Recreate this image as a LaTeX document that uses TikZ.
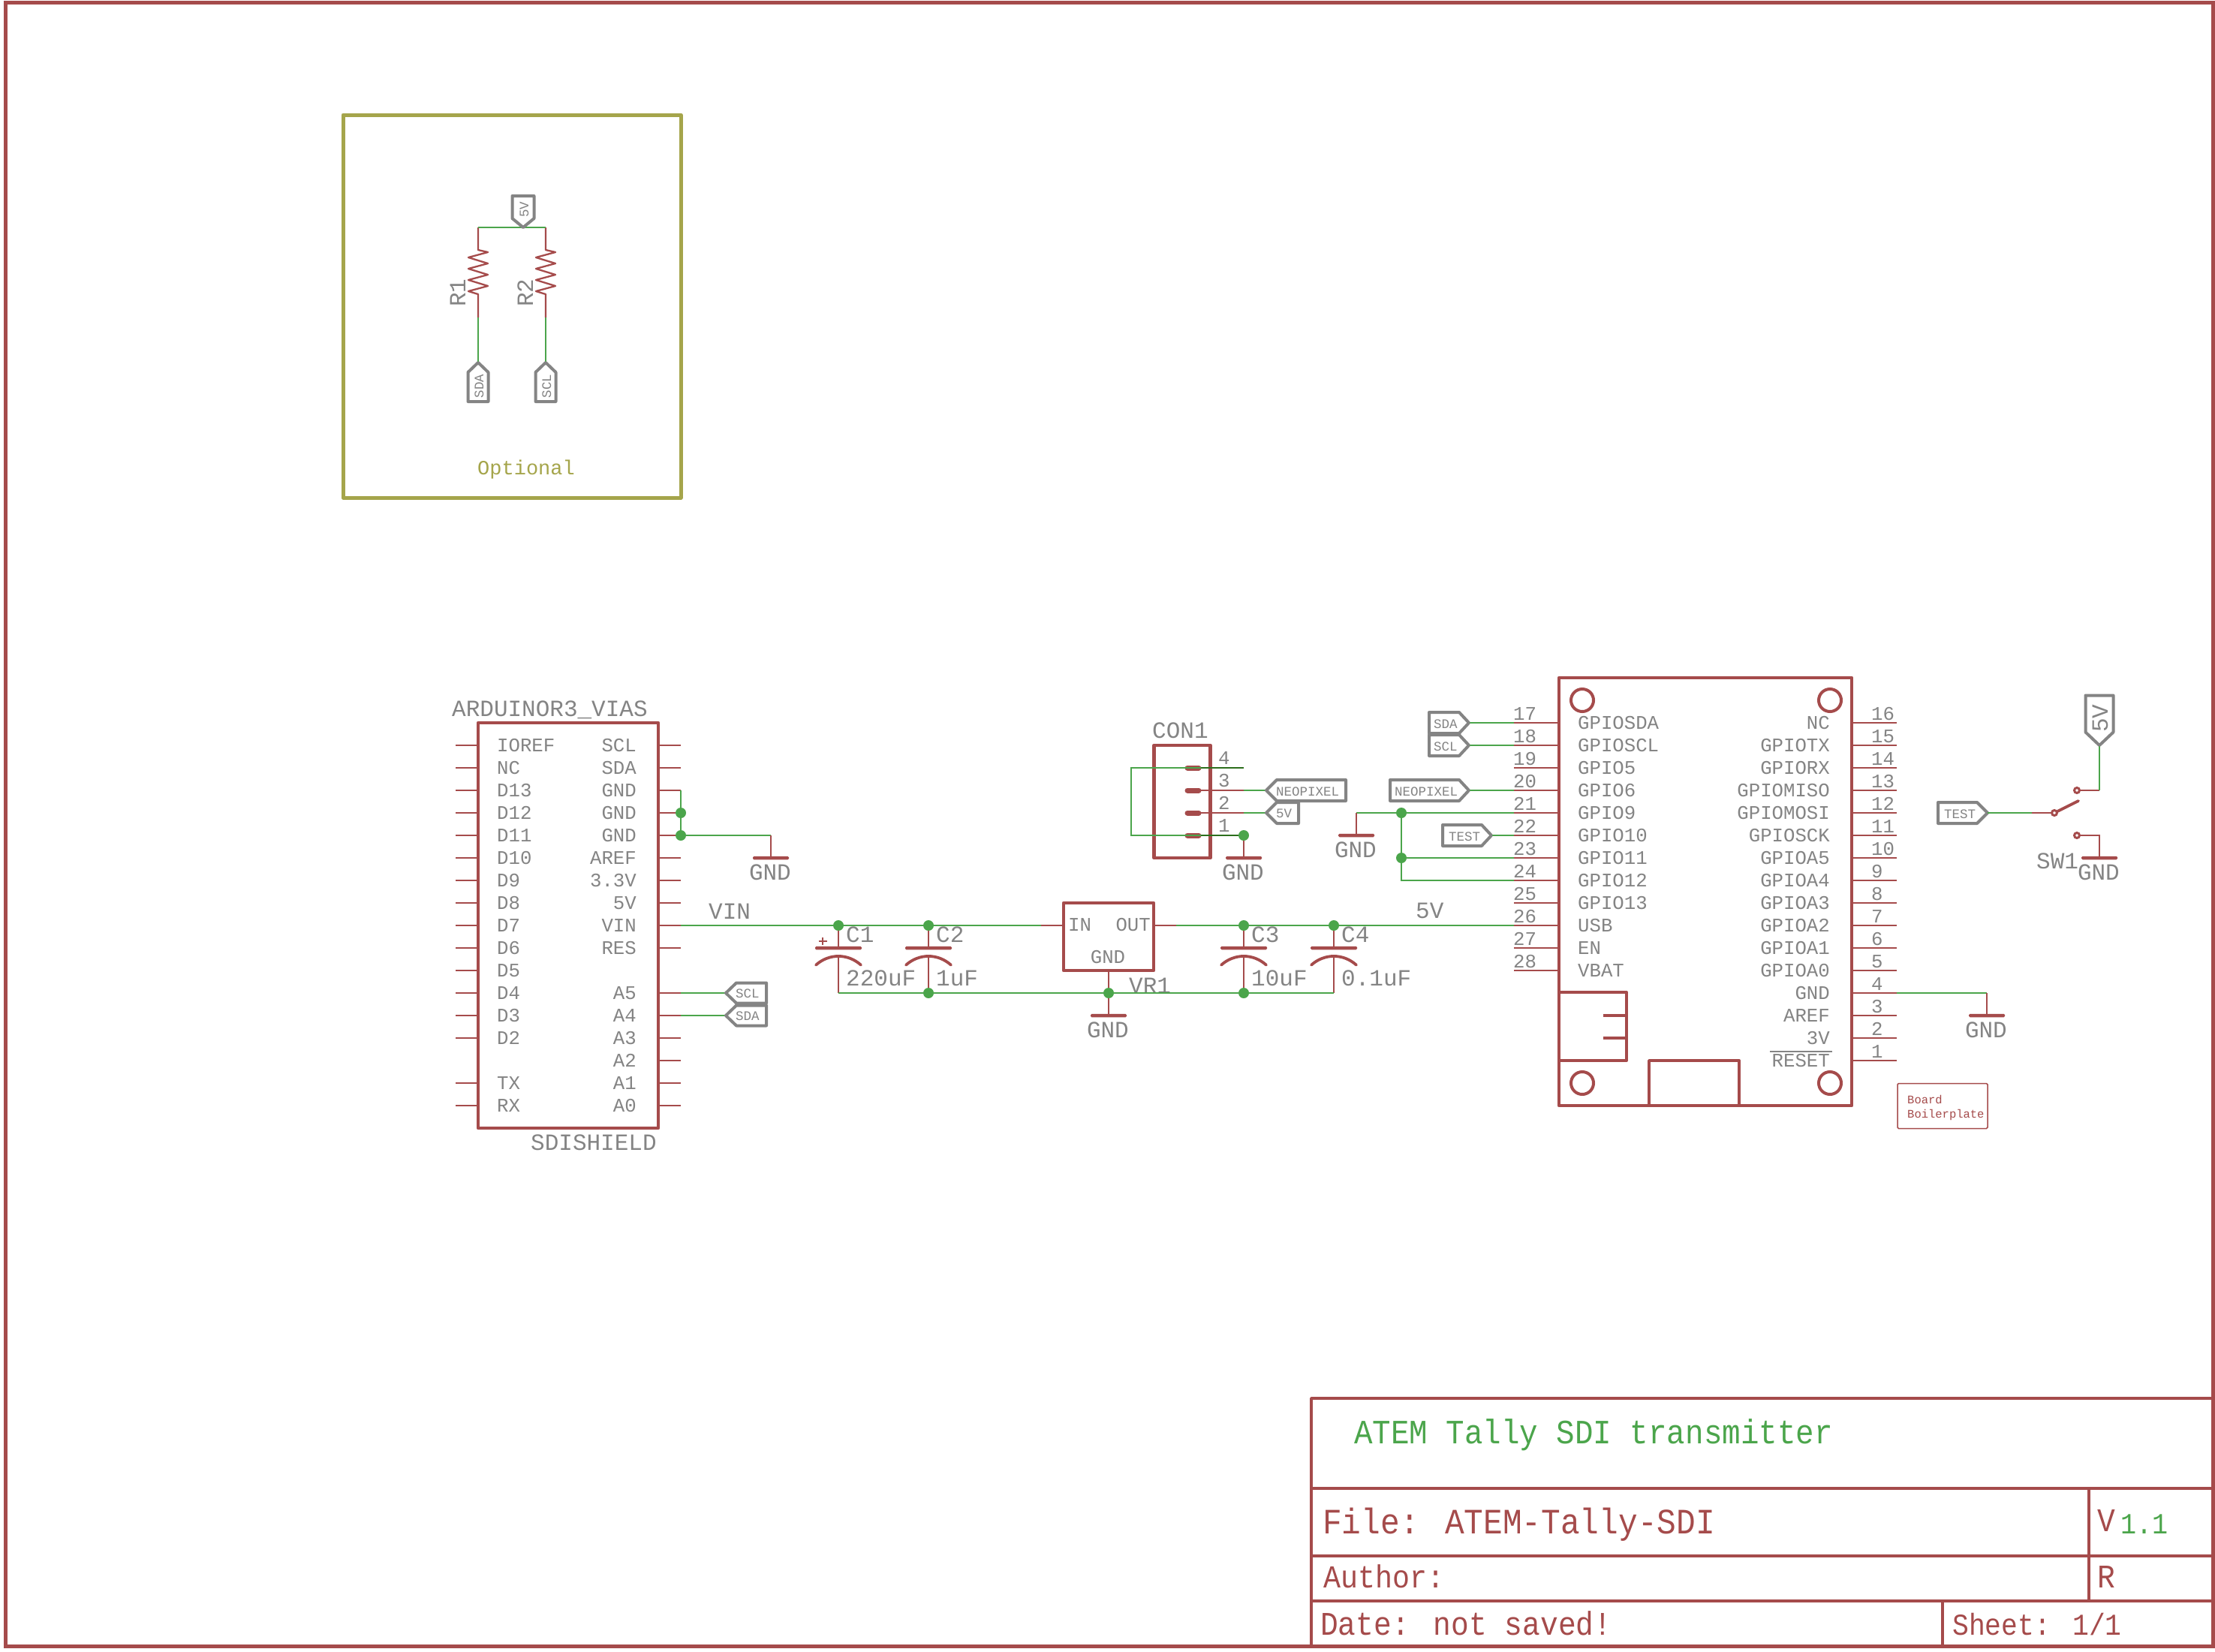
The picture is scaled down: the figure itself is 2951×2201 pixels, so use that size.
\documentclass[tikz,border=0pt]{standalone}
\usepackage{fontspec}
\setmainfont{Liberation Mono}
\newfontfamily\blockfont[FakeStretch=0.9]{Liberation Mono}
\usetikzlibrary{positioning,calc}

\definecolor{symred}{RGB}{165,75,75}
\definecolor{netgreen}{RGB}{75,165,75}
\definecolor{darknet}{RGB}{44,110,28}
\definecolor{txtgray}{RGB}{132,132,132}
\definecolor{olive}{RGB}{165,165,75}

\tikzset{
  pinline/.style={draw=symred, line width=2.3pt},
  wire/.style={draw=netgreen, line width=2.3pt, line join=miter},
  darkwire/.style={draw=darknet, line width=2.3pt},
  flag/.style={draw=txtgray, line width=4pt, line join=round},
  padline/.style={draw=symred, line width=7pt, line cap=round},
  symline/.style={draw=symred, line width=3.8pt, line join=round},
  capcurve/.style={draw=symred, line width=3.8pt, line cap=round},
  symbox/.style={draw=symred, line width=4.5pt, inner sep=0pt, outer sep=0pt, line join=round},
  holeshape/.style={draw=symred, line width=4pt, circle, inner sep=0pt, minimum size=30pt},
  junction/.style={fill=netgreen, circle, inner sep=0pt, minimum size=14pt},
  contact/.style={draw=symred, line width=3pt, circle, inner sep=0pt, minimum size=7pt},
  gndbar/.style={fill=symred, inner sep=0pt, outer sep=0pt, minimum width=48pt, minimum height=4.5pt, rounded corners=1.5pt},
  capplate/.style={fill=symred, inner sep=0pt, outer sep=0pt, minimum width=62pt, minimum height=4.5pt, rounded corners=1.5pt},
  pintxt/.style={text=txtgray, inner sep=0pt, font=\fontsize{25.7}{26}\selectfont},
  nametxt/.style={text=txtgray, inner sep=0pt, anchor=base west, font=\fontsize{31}{31}\selectfont},
  flagtxt/.style={text=txtgray, inner sep=0pt, anchor=base west, font=\fontsize{17.5}{17.5}\selectfont},
  pinw/.style={pintxt, anchor=base west, xshift=25pt, yshift=-8.5pt},
  pine/.style={pintxt, anchor=base east, xshift=-29pt, yshift=-8.5pt},
  numw/.style={pintxt, anchor=base west, xshift=-61pt, yshift=4pt},
  nume/.style={pintxt, anchor=base west, xshift=26pt, yshift=4pt},
  gndtxt/.style={nametxt, anchor=base east, xshift=27pt, yshift=-29pt},
  titletxt/.style={text=symred, inner sep=0pt, anchor=base west},
}

\begin{document}
\begin{tikzpicture}[x=1pt, y=-1pt]
  \fill[white] (0,0) rectangle (2951,2201);
  \useasboundingbox (0,0) rectangle (2951,2201);

  % sheet frame and title block
  \draw[draw=symred, line width=5pt] (7.5,3.5) rectangle (2948.5,2193.5);
  \draw[symline] (1747,2193) -- (1747,1863) -- (2948,1863);
  \draw[symline] (1747,1983) -- (2948,1983);
  \draw[symline] (1747,2073) -- (2948,2073);
  \draw[symline] (1747,2133) -- (2948,2133);
  \draw[symline] (2783,1983) -- (2783,2133);
  \draw[symline] (2588,2133) -- (2588,2193);
  \node (title) [titletxt, text=netgreen, font=\blockfont\fontsize{45.4}{45}\selectfont] at (1804,1923) {ATEM Tally SDI transmitter};
  \node (file) [titletxt, font=\blockfont\fontsize{47.6}{48}\selectfont] at (1762,2043) {File: ATEM-Tally-SDI};
  \node (vers) [titletxt, font=\blockfont\fontsize{44}{44}\selectfont] at (2794,2040) {V};
  \node (versn) [titletxt, text=netgreen, font=\blockfont\fontsize{39}{39}\selectfont] at (2825,2043) {1.1};
  \node (author) [titletxt, font=\blockfont\fontsize{42.6}{43}\selectfont] at (1763,2115) {Author:};
  \node (rev) [titletxt, font=\blockfont\fontsize{44}{44}\selectfont] at (2794,2115) {R};
  \node (date) [titletxt, font=\blockfont\fontsize{44}{44}\selectfont] at (1759,2178) {Date: not saved!};
  \node (sheet) [titletxt, font=\blockfont\fontsize{40.4}{40}\selectfont] at (2601,2178) {Sheet: 1/1};

  % optional pull ups
  \node (optbox) [draw=olive, line width=5pt, inner sep=0pt, minimum width=450pt, minimum height=510pt, line join=round] at (682,408) {};
  \node (opttxt) [text=olive, inner sep=0pt, anchor=base west, font=\fontsize{27}{27}\selectfont] at (636,632) {Optional};
  \coordinate (f5v) at (697,303);
  \coordinate (r1a) at (637,303);
  \coordinate (r2a) at (727,303);
  \coordinate (r1b) at (637,423);
  \coordinate (r2b) at (727,423);
  \coordinate (fsda) at (637,483);
  \coordinate (fscl) at (727,483);
  \draw[pinline, line join=round] (r1a) -- ++(0,30) -- ++(13,3) -- ++(-26,7) -- ++(26,8) -- ++(-26,7) -- ++(26,8) -- ++(-26,7) -- ++(26,8) -- ++(-26,7) -- ++(13,4) -- (r1b);
  \draw[pinline, line join=round] (r2a) -- ++(0,30) -- ++(13,3) -- ++(-26,7) -- ++(26,8) -- ++(-26,7) -- ++(26,8) -- ++(-26,7) -- ++(26,8) -- ++(-26,7) -- ++(13,4) -- (r2b);
  \draw[wire] (r1a) -- (r2a);
  \draw[wire] (r1b) -- (fsda);
  \draw[wire] (r2b) -- (fscl);
  \draw[flag] (f5v) -- ++(-14.5,-12) -- ++(0,-30) -- ++(29,0) -- ++(0,30) -- cycle;
  \draw[flag] (fsda) -- ++(-13.5,13) -- ++(0,39) -- ++(27,0) -- ++(0,-39) -- cycle;
  \draw[flag] (fscl) -- ++(-13.5,13) -- ++(0,39) -- ++(27,0) -- ++(0,-39) -- cycle;
  \node (t5v) [flagtxt, rotate=90] at (704,290) {5V};
  \node (tsda) [flagtxt, rotate=90] at (644,530.5) {SDA};
  \node (tscl) [flagtxt, rotate=90] at (734,530.5) {SCL};
  \node (tr1) [nametxt, rotate=90] at (620,409) {R1};
  \node (tr2) [nametxt, rotate=90] at (710,409) {R2};

  % arduino shield
  \node (ard) [symbox, minimum width=240pt, minimum height=540pt] at (757,1233) {};
  \node (tard) [nametxt] at (602,954) {ARDUINOR3\_VIAS};
  \node (tshield) [nametxt] at (707,1532) {SDISHIELD};
  \coordinate (al1) at (637,993); \node (tl1) [pinw] at (al1) {IOREF}; \draw[pinline] (al1) -- ++(-30,0);
  \coordinate (al2) at (637,1023); \node (tl2) [pinw] at (al2) {NC}; \draw[pinline] (al2) -- ++(-30,0);
  \coordinate (al3) at (637,1053); \node (tl3) [pinw] at (al3) {D13}; \draw[pinline] (al3) -- ++(-30,0);
  \coordinate (al4) at (637,1083); \node (tl4) [pinw] at (al4) {D12}; \draw[pinline] (al4) -- ++(-30,0);
  \coordinate (al5) at (637,1113); \node (tl5) [pinw] at (al5) {D11}; \draw[pinline] (al5) -- ++(-30,0);
  \coordinate (al6) at (637,1143); \node (tl6) [pinw] at (al6) {D10}; \draw[pinline] (al6) -- ++(-30,0);
  \coordinate (al7) at (637,1173); \node (tl7) [pinw] at (al7) {D9}; \draw[pinline] (al7) -- ++(-30,0);
  \coordinate (al8) at (637,1203); \node (tl8) [pinw] at (al8) {D8}; \draw[pinline] (al8) -- ++(-30,0);
  \coordinate (al9) at (637,1233); \node (tl9) [pinw] at (al9) {D7}; \draw[pinline] (al9) -- ++(-30,0);
  \coordinate (al10) at (637,1263); \node (tl10) [pinw] at (al10) {D6}; \draw[pinline] (al10) -- ++(-30,0);
  \coordinate (al11) at (637,1293); \node (tl11) [pinw] at (al11) {D5}; \draw[pinline] (al11) -- ++(-30,0);
  \coordinate (al12) at (637,1323); \node (tl12) [pinw] at (al12) {D4}; \draw[pinline] (al12) -- ++(-30,0);
  \coordinate (al13) at (637,1353); \node (tl13) [pinw] at (al13) {D3}; \draw[pinline] (al13) -- ++(-30,0);
  \coordinate (al14) at (637,1383); \node (tl14) [pinw] at (al14) {D2}; \draw[pinline] (al14) -- ++(-30,0);
  \coordinate (al16) at (637,1443); \node (tl16) [pinw] at (al16) {TX}; \draw[pinline] (al16) -- ++(-30,0);
  \coordinate (al17) at (637,1473); \node (tl17) [pinw] at (al17) {RX}; \draw[pinline] (al17) -- ++(-30,0);

  \coordinate (ar1) at (877,993); \node (tr1a) [pine] at (ar1) {SCL}; \draw[pinline] (ar1) -- ++(30,0);
  \coordinate (ar2) at (877,1023); \node (tr2a) [pine] at (ar2) {SDA}; \draw[pinline] (ar2) -- ++(30,0);
  \coordinate (ar3) at (877,1053); \node (tr3) [pine] at (ar3) {GND}; \draw[pinline] (ar3) -- ++(30,0) coordinate (er3);
  \coordinate (ar4) at (877,1083); \node (tr4) [pine] at (ar4) {GND}; \draw[pinline] (ar4) -- ++(30,0);
  \coordinate (ar5) at (877,1113); \node (tr5) [pine] at (ar5) {GND}; \draw[pinline] (ar5) -- ++(30,0);
  \coordinate (ar6) at (877,1143); \node (tr6) [pine] at (ar6) {AREF}; \draw[pinline] (ar6) -- ++(30,0);
  \coordinate (ar7) at (877,1173); \node (tr7) [pine] at (ar7) {3.3V}; \draw[pinline] (ar7) -- ++(30,0);
  \coordinate (ar8) at (877,1203); \node (tr8) [pine] at (ar8) {5V}; \draw[pinline] (ar8) -- ++(30,0);
  \coordinate (ar9) at (877,1233); \node (tr9) [pine] at (ar9) {VIN}; \draw[pinline] (ar9) -- ++(30,0) coordinate (er9);
  \coordinate (ar10) at (877,1263); \node (tr10) [pine] at (ar10) {RES}; \draw[pinline] (ar10) -- ++(30,0);
  \coordinate (ar12) at (877,1323); \node (tr12) [pine] at (ar12) {A5}; \draw[pinline] (ar12) -- ++(30,0) coordinate (er12);
  \coordinate (ar13) at (877,1353); \node (tr13) [pine] at (ar13) {A4}; \draw[pinline] (ar13) -- ++(30,0) coordinate (er13);
  \coordinate (ar14) at (877,1383); \node (tr14) [pine] at (ar14) {A3}; \draw[pinline] (ar14) -- ++(30,0);
  \coordinate (ar15) at (877,1413); \node (tr15) [pine] at (ar15) {A2}; \draw[pinline] (ar15) -- ++(30,0);
  \coordinate (ar16) at (877,1443); \node (tr16) [pine] at (ar16) {A1}; \draw[pinline] (ar16) -- ++(30,0);
  \coordinate (ar17) at (877,1473); \node (tr17) [pine] at (ar17) {A0}; \draw[pinline] (ar17) -- ++(30,0);

  % shield nets
  \node (jg2) [junction] at (907,1083) {};
  \node (jg3) [junction] at (907,1113) {};
  \coordinate (cga) at (1027,1113);
  \node (gnda) [gndbar] at (1027,1143) {};
  \node (tgnda) [gndtxt] at (gnda) {GND};
  \draw[wire] (er3) -- (jg2);
  \draw[wire] (jg2) -- (jg3);
  \draw[wire] (jg3) -- (cga);
  \draw[pinline] (cga) -- (gnda);
  \coordinate (fascl) at (967,1323);
  \coordinate (fasda) at (967,1353);
  \draw[wire] (er12) -- (fascl);
  \draw[wire] (er13) -- (fasda);
  \draw[flag] (fascl) -- ++(14,-13.5) -- ++(40,0) -- ++(0,27) -- ++(-40,0) -- cycle;
  \draw[flag] (fasda) -- ++(14,-13.5) -- ++(40,0) -- ++(0,27) -- ++(-40,0) -- cycle;
  \node (tfascl) [flagtxt] at (980,1329.5) {SCL};
  \node (tfasda) [flagtxt] at (980,1359.5) {SDA};
  \node (tvin) [nametxt] at (944,1224) {VIN};

  % regulator with capacitors
  \node (vr) [symbox, minimum width=120pt, minimum height=90pt] at (1477,1248) {};
  \node (tvr) [nametxt] at (1504,1323) {VR1};
  \coordinate (vrin) at (1417,1233);
  \coordinate (vrout) at (1537,1233);
  \coordinate (vrgnd) at (1477,1293);
  \draw[pinline] (vrin) -- ++(-30,0) coordinate (evin);
  \draw[pinline] (vrout) -- ++(30,0) coordinate (evout);
  \node (tvrin) [pintxt, anchor=base west] at (1423,1240) {IN};
  \node (tvrout) [pintxt, anchor=base east] at (1533,1240) {OUT};
  \node (tvrgnd) [pintxt, anchor=base] at (1476,1283.5) {GND};
  \node (jc1) [junction] at (1117,1233) {};
  \node (jc2) [junction] at (1237,1233) {};
  \node (jc3) [junction] at (1657,1233) {};
  \node (jc4) [junction] at (1777,1233) {};
  \coordinate (jb1) at (1117,1323);
  \node (jb2) [junction] at (1237,1323) {};
  \node (jvr) [junction] at (1477,1323) {};
  \node (jb3) [junction] at (1657,1323) {};
  \coordinate (jb4) at (1777,1323);
  \node (pc1) [capplate] at (1117,1263) {};
  \node (pc2) [capplate] at (1237,1263) {};
  \node (pc3) [capplate] at (1657,1263) {};
  \node (pc4) [capplate] at (1777,1263) {};
  \draw[capcurve] ($(pc1)+(-30,22.7)$) to[bend left=42] ($(pc1)+(30,22.7)$);
  \draw[capcurve] ($(pc2)+(-30,22.7)$) to[bend left=42] ($(pc2)+(30,22.7)$);
  \draw[capcurve] ($(pc3)+(-30,22.7)$) to[bend left=42] ($(pc3)+(30,22.7)$);
  \draw[capcurve] ($(pc4)+(-30,22.7)$) to[bend left=42] ($(pc4)+(30,22.7)$);
  \draw[pinline] (jc1) -- (pc1);
  \draw[pinline] (jc2) -- (pc2);
  \draw[pinline] (jc3) -- (pc3);
  \draw[pinline] (jc4) -- (pc4);
  \draw[pinline] ($(pc1)+(0,11)$) -- (jb1);
  \draw[pinline] ($(pc2)+(0,11)$) -- (jb2);
  \draw[pinline] ($(pc3)+(0,11)$) -- (jb3);
  \draw[pinline] ($(pc4)+(0,11)$) -- (jb4);
  \coordinate (cplus) at (1096,1254);
  \draw[draw=symred, line width=2.5pt] (cplus) +(-5.5,0) -- +(5.5,0) +(0,-5) -- +(0,5);
  \draw[wire] (er9) -- (jc1);
  \draw[wire] (jc1) -- (jc2);
  \draw[wire] (jc2) -- (evin);
  \draw[wire] (jb1) -- (jb2);
  \draw[wire] (jb2) -- (jvr);
  \draw[wire] (jvr) -- (jb3);
  \draw[wire] (jb3) -- (jb4);
  \node (gndb) [gndbar] at (1477,1353) {};
  \node (tgndb) [gndtxt] at (gndb) {GND};
  \draw[pinline] (vrgnd) -- (jvr);
  \draw[pinline] (jvr) -- (gndb);
  \node (tc1) [nametxt] at (1127,1255) {C1};
  \node (tc2) [nametxt] at (1247,1255) {C2};
  \node (tc3) [nametxt] at (1667,1255) {C3};
  \node (tc4) [nametxt] at (1787,1255) {C4};
  \node (vc1) [nametxt] at (1127,1313) {220uF};
  \node (vc2) [nametxt] at (1247,1313) {1uF};
  \node (vc3) [nametxt] at (1667,1313) {10uF};
  \node (vc4) [nametxt] at (1787,1313) {0.1uF};

  % neopixel connector
  \node (con) [symbox, minimum width=75pt, minimum height=150pt] at (1575,1068) {};
  \node (tcon) [nametxt] at (1535,983.5) {CON1};
  \coordinate (cp4) at (1600,1023);
  \coordinate (cp3) at (1600,1053);
  \coordinate (cp2) at (1600,1083);
  \coordinate (cp1) at (1600,1113);
  \draw[padline] (cp4) ++(-3,0) -- ++(-15,0);
  \draw[padline] (cp3) ++(-3,0) -- ++(-15,0);
  \draw[padline] (cp2) ++(-3,0) -- ++(-15,0);
  \draw[padline] (cp1) ++(-3,0) -- ++(-15,0);
  \draw[pinline] (cp3) -- ++(57,0) coordinate (ec3);
  \draw[pinline] (cp2) -- ++(57,0) coordinate (ec2);
  \coordinate (ec4) at (1657,1023);
  \coordinate (cl4) at (1507,1023);
  \coordinate (cl1) at (1507,1113);
  \node (jcon) [junction] at (1657,1113) {};
  \draw[wire] (cp4) -- (cl4) -- (cl1) -- (cp1);
  \draw[darkwire] (cp4) -- (ec4);
  \draw[darkwire] (cp1) -- (jcon);
  \node (ncon4) [pintxt, anchor=base west] at (1623,1018.5) {4};
  \node (ncon3) [pintxt, anchor=base west] at (1623,1048.5) {3};
  \node (ncon2) [pintxt, anchor=base west] at (1623,1078.5) {2};
  \node (ncon1) [pintxt, anchor=base west] at (1623,1108.5) {1};
  \node (gndc) [gndbar] at (1657,1143) {};
  \node (tgndc) [gndtxt] at (gndc) {GND};
  \draw[pinline] (jcon) -- (gndc);
  \coordinate (fcneo) at (1687,1053);
  \coordinate (fc5v) at (1687,1083);
  \draw[wire] (ec3) -- (fcneo);
  \draw[wire] (ec2) -- (fc5v);
  \draw[flag] (fcneo) -- ++(14,-14) -- ++(92,0) -- ++(0,28) -- ++(-92,0) -- cycle;
  \draw[flag] (fc5v) -- ++(14,-14) -- ++(29,0) -- ++(0,28) -- ++(-29,0) -- cycle;
  \node (tfcneo) [flagtxt] at (1700,1060) {NEOPIXEL};
  \node (tfc5v) [flagtxt] at (1700,1089.5) {5V};

  % feather module
  \node (mod) [symbox, minimum width=390pt, minimum height=570pt] at (2272,1188) {};
  \node (h1) [holeshape] at (2108,933) {};
  \node (h2) [holeshape] at (2438,933) {};
  \node (h3) [holeshape] at (2108,1443) {};
  \node (h4) [holeshape] at (2438,1443) {};
  \draw[symline] (2077,1322) -- (2167,1322) -- (2167,1413) -- (2077,1413);
  \draw[symline] (2136,1353) -- (2167,1353);
  \draw[symline] (2136,1383) -- (2167,1383);
  \draw[symline] (2197,1473) -- (2197,1413) -- (2317,1413) -- (2317,1473);

  \coordinate (ml17) at (2077,963); \node (tm17) [pinw] at (ml17) {GPIOSDA}; \node (nm17) [numw] at (ml17) {17}; \draw[pinline] (ml17) -- ++(-60,0) coordinate (em17);
  \coordinate (ml18) at (2077,993); \node (tm18) [pinw] at (ml18) {GPIOSCL}; \node (nm18) [numw] at (ml18) {18}; \draw[pinline] (ml18) -- ++(-60,0) coordinate (em18);
  \coordinate (ml19) at (2077,1023); \node (tm19) [pinw] at (ml19) {GPIO5}; \node (nm19) [numw] at (ml19) {19}; \draw[pinline] (ml19) -- ++(-60,0);
  \coordinate (ml20) at (2077,1053); \node (tm20) [pinw] at (ml20) {GPIO6}; \node (nm20) [numw] at (ml20) {20}; \draw[pinline] (ml20) -- ++(-60,0) coordinate (em20);
  \coordinate (ml21) at (2077,1083); \node (tm21) [pinw] at (ml21) {GPIO9}; \node (nm21) [numw] at (ml21) {21}; \draw[pinline] (ml21) -- ++(-60,0) coordinate (em21);
  \coordinate (ml22) at (2077,1113); \node (tm22) [pinw] at (ml22) {GPIO10}; \node (nm22) [numw] at (ml22) {22}; \draw[pinline] (ml22) -- ++(-60,0) coordinate (em22);
  \coordinate (ml23) at (2077,1143); \node (tm23) [pinw] at (ml23) {GPIO11}; \node (nm23) [numw] at (ml23) {23}; \draw[pinline] (ml23) -- ++(-60,0) coordinate (em23);
  \coordinate (ml24) at (2077,1173); \node (tm24) [pinw] at (ml24) {GPIO12}; \node (nm24) [numw] at (ml24) {24}; \draw[pinline] (ml24) -- ++(-60,0) coordinate (em24);
  \coordinate (ml25) at (2077,1203); \node (tm25) [pinw] at (ml25) {GPIO13}; \node (nm25) [numw] at (ml25) {25}; \draw[pinline] (ml25) -- ++(-60,0);
  \coordinate (ml26) at (2077,1233); \node (tm26) [pinw] at (ml26) {USB}; \node (nm26) [numw] at (ml26) {26}; \draw[pinline] (ml26) -- ++(-60,0) coordinate (em26);
  \coordinate (ml27) at (2077,1263); \node (tm27) [pinw] at (ml27) {EN}; \node (nm27) [numw] at (ml27) {27}; \draw[pinline] (ml27) -- ++(-60,0);
  \coordinate (ml28) at (2077,1293); \node (tm28) [pinw] at (ml28) {VBAT}; \node (nm28) [numw] at (ml28) {28}; \draw[pinline] (ml28) -- ++(-60,0);

  \coordinate (mr16) at (2467,963); \node (tm16) [pine] at (mr16) {NC}; \node (nm16) [nume] at (mr16) {16}; \draw[pinline] (mr16) -- ++(60,0);
  \coordinate (mr15) at (2467,993); \node (tm15) [pine] at (mr15) {GPIOTX}; \node (nm15) [nume] at (mr15) {15}; \draw[pinline] (mr15) -- ++(60,0);
  \coordinate (mr14) at (2467,1023); \node (tm14) [pine] at (mr14) {GPIORX}; \node (nm14) [nume] at (mr14) {14}; \draw[pinline] (mr14) -- ++(60,0);
  \coordinate (mr13) at (2467,1053); \node (tm13) [pine] at (mr13) {GPIOMISO}; \node (nm13) [nume] at (mr13) {13}; \draw[pinline] (mr13) -- ++(60,0);
  \coordinate (mr12) at (2467,1083); \node (tm12) [pine] at (mr12) {GPIOMOSI}; \node (nm12) [nume] at (mr12) {12}; \draw[pinline] (mr12) -- ++(60,0);
  \coordinate (mr11) at (2467,1113); \node (tm11) [pine] at (mr11) {GPIOSCK}; \node (nm11) [nume] at (mr11) {11}; \draw[pinline] (mr11) -- ++(60,0);
  \coordinate (mr10) at (2467,1143); \node (tm10) [pine] at (mr10) {GPIOA5}; \node (nm10) [nume] at (mr10) {10}; \draw[pinline] (mr10) -- ++(60,0);
  \coordinate (mr9) at (2467,1173); \node (tm9) [pine] at (mr9) {GPIOA4}; \node (nm9) [nume] at (mr9) {9}; \draw[pinline] (mr9) -- ++(60,0);
  \coordinate (mr8) at (2467,1203); \node (tm8) [pine] at (mr8) {GPIOA3}; \node (nm8) [nume] at (mr8) {8}; \draw[pinline] (mr8) -- ++(60,0);
  \coordinate (mr7) at (2467,1233); \node (tm7) [pine] at (mr7) {GPIOA2}; \node (nm7) [nume] at (mr7) {7}; \draw[pinline] (mr7) -- ++(60,0);
  \coordinate (mr6) at (2467,1263); \node (tm6) [pine] at (mr6) {GPIOA1}; \node (nm6) [nume] at (mr6) {6}; \draw[pinline] (mr6) -- ++(60,0);
  \coordinate (mr5) at (2467,1293); \node (tm5) [pine] at (mr5) {GPIOA0}; \node (nm5) [nume] at (mr5) {5}; \draw[pinline] (mr5) -- ++(60,0);
  \coordinate (mr4) at (2467,1323); \node (tm4) [pine] at (mr4) {GND}; \node (nm4) [nume] at (mr4) {4}; \draw[pinline] (mr4) -- ++(60,0) coordinate (em4);
  \coordinate (mr3) at (2467,1353); \node (tm3) [pine] at (mr3) {AREF}; \node (nm3) [nume] at (mr3) {3}; \draw[pinline] (mr3) -- ++(60,0);
  \coordinate (mr2) at (2467,1383); \node (tm2) [pine] at (mr2) {3V}; \node (nm2) [nume] at (mr2) {2}; \draw[pinline] (mr2) -- ++(60,0);
  \coordinate (mr1) at (2467,1413); \node (tm1) [pine] at (mr1) {RESET}; \node (nm1) [nume] at (mr1) {1}; \draw[pinline] (mr1) -- ++(60,0);
  \draw[draw=txtgray, line width=1.5pt] ($(tm1.north west)+(-3,-3)$) -- ($(tm1.north east)+(3,-3)$);

  % module nets
  \coordinate (fmsda) at (1957,963);
  \coordinate (fmscl) at (1957,993);
  \coordinate (fmneo) at (1957,1053);
  \coordinate (fmtest) at (1987,1113);
  \draw[wire] (fmsda) -- (em17);
  \draw[wire] (fmscl) -- (em18);
  \draw[wire] (fmneo) -- (em20);
  \draw[wire] (fmtest) -- (em22);
  \draw[flag] (fmsda) -- ++(-13,-14) -- ++(-40,0) -- ++(0,28) -- ++(40,0) -- cycle;
  \draw[flag] (fmscl) -- ++(-13,-14) -- ++(-40,0) -- ++(0,28) -- ++(40,0) -- cycle;
  \draw[flag] (fmneo) -- ++(-13,-14) -- ++(-92,0) -- ++(0,28) -- ++(92,0) -- cycle;
  \draw[flag] (fmtest) -- ++(-13,-14) -- ++(-52,0) -- ++(0,28) -- ++(52,0) -- cycle;
  \node (tfmsda) [flagtxt] at (1910,970) {SDA};
  \node (tfmscl) [flagtxt] at (1910,1000) {SCL};
  \node (tfmneo) [flagtxt] at (1858,1060) {NEOPIXEL};
  \node (tfmtest) [flagtxt] at (1930,1120) {TEST};
  \coordinate (cgd) at (1807,1083);
  \node (jm1) [junction] at (1867,1083) {};
  \node (jm2) [junction] at (1867,1143) {};
  \coordinate (cm24) at (1867,1173);
  \draw[wire] (cgd) -- (jm1);
  \draw[wire] (jm1) -- (em21);
  \draw[wire] (jm1) -- (jm2);
  \draw[wire] (jm2) -- (em23);
  \draw[wire] (jm2) -- (cm24) -- (em24);
  \node (gndd) [gndbar] at (1807,1113) {};
  \node (tgndd) [gndtxt] at (gndd) {GND};
  \draw[pinline] (cgd) -- (gndd);
  \draw[wire] (evout) -- (jc3);
  \draw[wire] (jc3) -- (jc4);
  \draw[wire] (jc4) -- (em26);
  \node (t5vnet) [nametxt] at (1886,1223) {5V};
  \coordinate (cge) at (2647,1323);
  \node (gnde) [gndbar] at (2647,1353) {};
  \node (tgnde) [gndtxt] at (gnde) {GND};
  \draw[wire] (em4) -- (cge);
  \draw[pinline] (cge) -- (gnde);
  \node (bb) [draw=symred, line width=1.5pt, rounded corners=1.5pt, inner sep=0pt, minimum width=120pt, minimum height=60pt] at (2588,1473.5) {};
  \node (bb1) [titletxt, font=\fontsize{15.5}{15.5}\selectfont] at (2541,1470.5) {Board};
  \node (bb2) [titletxt, font=\fontsize{15.5}{15.5}\selectfont] at (2541,1489) {Boilerplate};

  % test switch
  \coordinate (fstest) at (2648,1083);
  \draw[flag] (fstest) -- ++(-14,-14) -- ++(-52,0) -- ++(0,28) -- ++(52,0) -- cycle;
  \node (tfstest) [flagtxt] at (2590,1090) {TEST};
  \node (swc) [contact] at (2737,1083) {};
  \node (swa) [contact] at (2767,1053) {};
  \node (swb) [contact] at (2767,1113) {};
  \coordinate (swtip) at (2769,1067);
  \coordinate (swpin) at (2707,1083);
  \coordinate (cswa) at (2797,1053);
  \coordinate (cswb) at (2797,1113);
  \coordinate (fs5v) at (2797,993);
  \draw[pinline] (swpin) -- (swc);
  \draw[wire] (fstest) -- (swpin);
  \draw[symline, line cap=round] (swc) -- (swtip);
  \draw[pinline] (swa) -- (cswa);
  \draw[wire] (cswa) -- (fs5v);
  \draw[flag] (fs5v) -- ++(-18.5,-17.5) -- ++(0,-49) -- ++(37,0) -- ++(0,49) -- cycle;
  \node (tfs5v) [nametxt, rotate=90] at (2808,976) {5V};
  \node (gndf) [gndbar] at (2797,1143) {};
  \node (tgndf) [gndtxt] at (gndf) {GND};
  \draw[pinline] (swb) -- (cswb) -- (gndf);
  \node (tsw) [nametxt] at (2713,1157) {SW1};
\end{tikzpicture}
\end{document}
